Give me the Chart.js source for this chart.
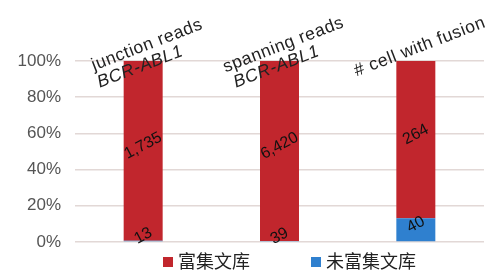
<!DOCTYPE html>
<html>
<head>
<meta charset="utf-8">
<script src="https://cdn.jsdelivr.net/npm/chart.js@4/dist/chart.umd.min.js"></script>
<style>
  html, body { margin: 0; padding: 0; background: #fff; }
  .chart { width: 496px; height: 270px; }
</style>
</head>
<body>
<div class="chart"><canvas id="c"></canvas></div>
<script>
// category captions (second line is italic gene name)
const categories = [
  ['junction reads', 'BCR-ABL1'],
  ['spanning reads', 'BCR-ABL1'],
  ['# cell with fusion']
];
const seriesNames = ['富集文库', '未富集文库'];
const enriched = [1735, 6420, 264];
const unenriched = [13, 39, 40];
const yTicks = [0, 20, 40, 60, 80, 100];

const RED = '#c1262d';
const BLUE = '#2f80cf';

const totals = enriched.map((v, i) => v + unenriched[i]);
const pct = arr => arr.map((v, i) => v / totals[i] * 100);

// draws value labels, category captions and the legend
const annotate = {
  id: 'annotate',
  afterDatasetsDraw(chart) {
    const ctx = chart.ctx;
    const x = chart.scales.x;
    ctx.save();
    ctx.fillStyle = '#111';
    ctx.textAlign = 'center';
    ctx.textBaseline = 'middle';
    ctx.font = '16px "Liberation Sans", Arial, sans-serif';
    chart.data.datasets.forEach((ds, di) => {
      const meta = chart.getDatasetMeta(di);
      meta.data.forEach((bar, i) => {
        const yc = (bar.y + bar.base) / 2 - 5;
        ctx.save();
        ctx.translate(bar.x, yc);
        ctx.rotate(-28 * Math.PI / 180);
        ctx.fillText(ds.raw[i].toLocaleString('en-US'), 0, 0);
        ctx.restore();
      });
    });

    // captions above bars
    ctx.fillStyle = '#222';
    ctx.letterSpacing = '0.6px';
    categories.forEach((lines, i) => {
      const cx = x.getPixelForValue(i);
      lines.forEach((t, li) => {
        ctx.save();
        const dx = li === 0 ? 4 : -3;
        const y = lines.length === 1 ? 47 : (li === 0 ? 45 : 67);
        ctx.translate(cx + dx, y);
        ctx.rotate(-21 * Math.PI / 180);
        ctx.font = (li === 1 ? 'italic ' : '') + '17.5px "Liberation Sans", Arial, sans-serif';
        ctx.fillText(t, 0, 0);
        ctx.restore();
      });
    });
    ctx.letterSpacing = '0px';

    // legend
    const legend = [[seriesNames[0], RED, 163], [seriesNames[1], BLUE, 311]];
    ctx.font = '18px "Noto Sans CJK SC", sans-serif';
    ctx.textAlign = 'left';
    legend.forEach(([name, color, lx]) => {
      ctx.fillStyle = color;
      ctx.fillRect(lx, 257, 10, 10);
      ctx.fillStyle = '#222';
      ctx.fillText(name, lx + 15, 261);
    });
    ctx.restore();
  }
};

new Chart(document.getElementById('c'), {
  type: 'bar',
  data: {
    labels: categories.map(c => c.join(' ')),
    datasets: [
      { label: seriesNames[1], data: pct(unenriched), raw: unenriched, backgroundColor: BLUE },
      { label: seriesNames[0], data: pct(enriched), raw: enriched, backgroundColor: RED }
    ]
  },
  plugins: [annotate],
  options: {
    responsive: true,
    maintainAspectRatio: false,
    animation: false,
    layout: { padding: { top: 61, right: 12, bottom: 28, left: 0 } },
    datasets: { bar: { barPercentage: 0.286, categoryPercentage: 1 } },
    plugins: { legend: { display: false }, tooltip: { enabled: false } },
    scales: {
      x: { stacked: true, display: false },
      y: {
        stacked: true,
        min: 0,
        max: 100,
        afterFit(s) { s.width = 75; },
        afterBuildTicks(s) { s.ticks = yTicks.map(v => ({ value: v })); },
        border: { display: false },
        grid: { color: '#e2d8d6', lineWidth: 1.5, drawTicks: false },
        ticks: {
          padding: 14,
          color: '#555',
          font: { size: 17, family: '"Liberation Sans", Arial, sans-serif' },
          callback: v => v + '%'
        }
      }
    }
  }
});
</script>
</body>
</html>
